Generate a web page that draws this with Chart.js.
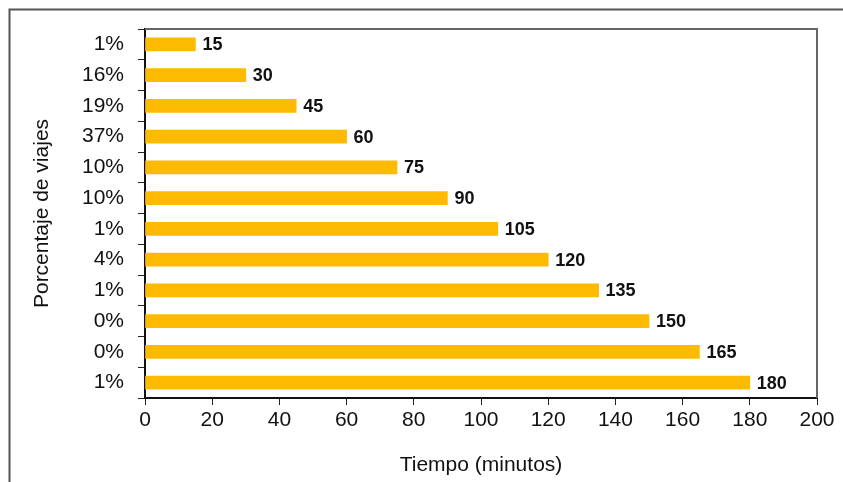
<!DOCTYPE html>
<html>
<head>
<meta charset="utf-8">
<script src="https://cdn.jsdelivr.net/npm/chart.js@4"></script>
<style>
  html, body { margin: 0; padding: 0; background: #fff; }
  #wrap { width: 843px; height: 482px; }
</style>
</head>
<body>
<div id="wrap"><canvas id="chart"></canvas></div>
<script>
// travel share per trip duration
let porcentajes = ["1%", "16%", "19%", "37%", "10%", "10%", "1%", "4%", "1%", "0%", "0%", "1%"];
let minutos = [15, 30, 45, 60, 75, 90, 105, 120, 135, 150, 165, 180];
let xTicks = [0, 20, 40, 60, 80, 100, 120, 140, 160, 180, 200];

const sans = "'Liberation Sans', Arial, sans-serif";

// value at the end of each bar + top/right plot border + outer frame
const extras = {
  id: "extras",
  afterDatasetsDraw(chart) {
    let ctx = chart.ctx;
    let area = chart.chartArea;
    ctx.save();
    ctx.font = "bold 18px " + sans;
    ctx.fillStyle = "#111";
    ctx.textAlign = "left";
    ctx.textBaseline = "middle";
    chart.getDatasetMeta(0).data.forEach((bar, i) => {
      ctx.fillText(minutos[i], bar.x + 7, bar.y + 1);
    });

    ctx.strokeStyle = "#666";
    ctx.lineWidth = 2;
    ctx.beginPath();
    ctx.moveTo(area.left, area.top);
    ctx.lineTo(area.right, area.top);
    ctx.lineTo(area.right, area.bottom);
    ctx.stroke();

    ctx.strokeStyle = "#555";
    ctx.beginPath();
    ctx.moveTo(843, 9.5);
    ctx.lineTo(9.5, 9.5);
    ctx.lineTo(9.5, 482);
    ctx.stroke();
    ctx.restore();
  },
};

new Chart(document.getElementById("chart"), {
  type: "bar",
  data: {
    labels: porcentajes,
    datasets: [
      {
        data: minutos,
        backgroundColor: "#FCBB00",
        barThickness: 13,
      },
    ],
  },
  options: {
    indexAxis: "y",
    responsive: true,
    maintainAspectRatio: false,
    animation: false,
    layout: { padding: { left: 0, right: 26, top: 29, bottom: 0 } },
    plugins: {
      legend: { display: false },
      tooltip: { enabled: false },
    },
    scales: {
      x: {
        min: 0,
        max: 200,
        afterBuildTicks: (axis) => {
          axis.ticks = xTicks.map((v) => ({ value: v }));
        },
        afterFit: (axis) => {
          axis.height = 84;
        },
        grid: { drawOnChartArea: false, tickLength: 7, color: "#222", lineWidth: 1 },
        border: { color: "#111", width: 2 },
        ticks: {
          color: "#111",
          padding: 3,
          maxRotation: 0,
          autoSkip: false,
          font: { family: sans, size: 21 },
        },
        title: {
          display: true,
          text: "Tiempo (minutos)",
          color: "#111",
          padding: { top: 0, bottom: 4 },
          font: { family: sans, size: 21 },
        },
      },
      y: {
        afterFit: (axis) => {
          axis.width = 145;
        },
        grid: { drawOnChartArea: false, tickLength: 7, color: "#222", lineWidth: 1, offset: true },
        border: { color: "#111", width: 2 },
        ticks: {
          color: "#111",
          padding: 14,
          autoSkip: false,
          font: { family: sans, size: 21 },
        },
        title: {
          display: true,
          text: "Porcentaje de viajes",
          color: "#111",
          padding: { top: 30, bottom: 0 },
          font: { family: sans, size: 21 },
        },
      },
    },
  },
  plugins: [extras],
});
</script>
</body>
</html>
